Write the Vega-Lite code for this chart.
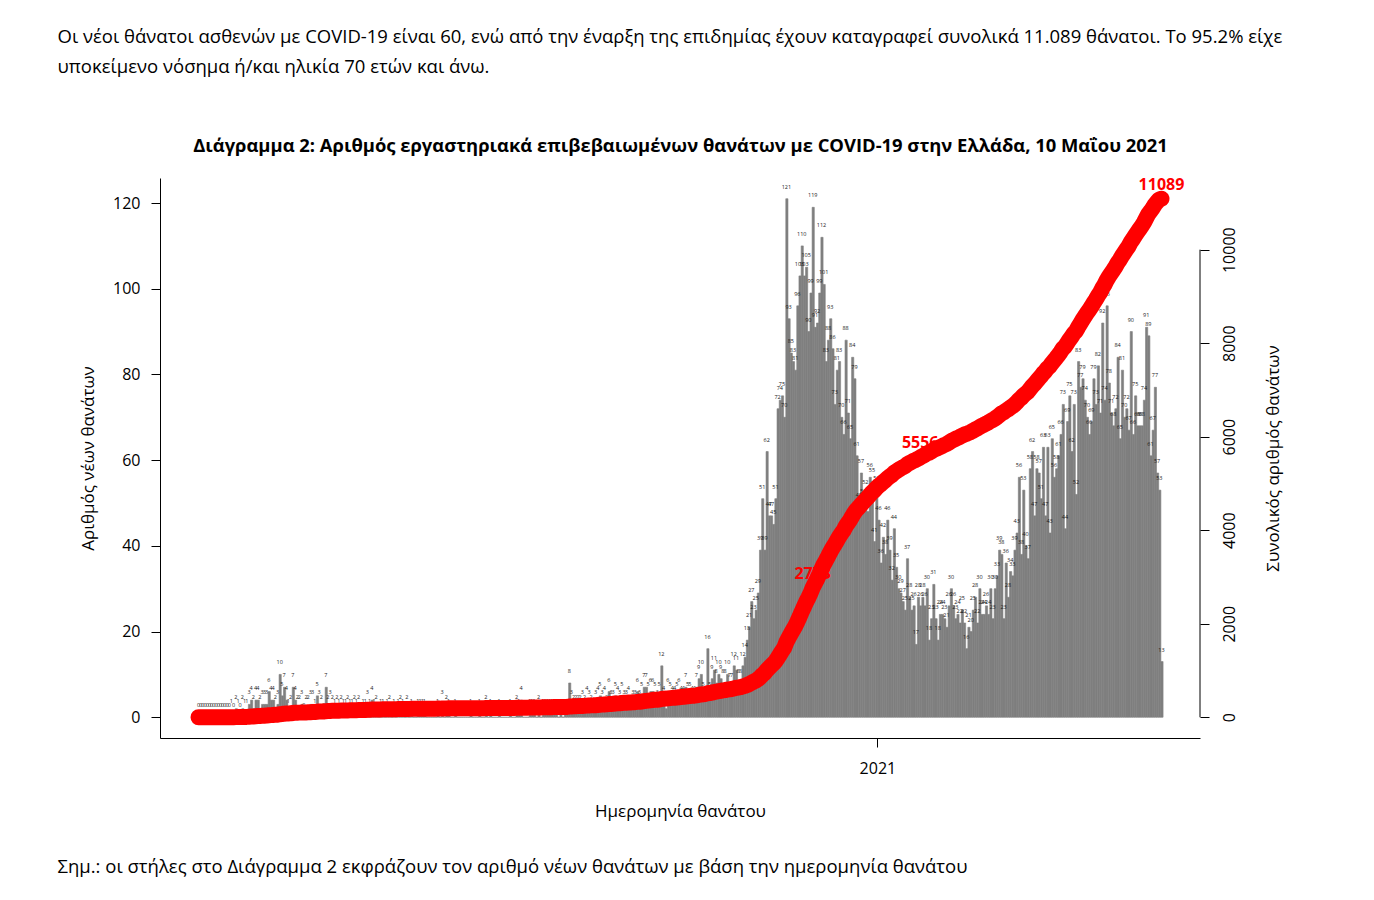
{
"$schema": "https://vega.github.io/schema/vega-lite/v6.json",
"width": 1040, "height": 560,
"autosize": {"type": "none"},
"padding": {"left": 160, "top": 178, "right": 174, "bottom": 162},
"background": "white",
"datasets": {"deaths": [
{"d":"2020-02-26","v":0},{"d":"2020-02-27","v":0},{"d":"2020-02-28","v":0},{"d":"2020-02-29","v":0},
{"d":"2020-03-01","v":0},{"d":"2020-03-02","v":0},{"d":"2020-03-03","v":0},{"d":"2020-03-04","v":0},{"d":"2020-03-05","v":0},{"d":"2020-03-06","v":0},{"d":"2020-03-07","v":0},{"d":"2020-03-08","v":0},{"d":"2020-03-09","v":0},{"d":"2020-03-10","v":0},{"d":"2020-03-11","v":0},{"d":"2020-03-12","v":1},{"d":"2020-03-13","v":0},{"d":"2020-03-14","v":2},{"d":"2020-03-15","v":1},{"d":"2020-03-16","v":0},{"d":"2020-03-17","v":2},{"d":"2020-03-18","v":1},{"d":"2020-03-19","v":1},{"d":"2020-03-20","v":3},{"d":"2020-03-21","v":4},{"d":"2020-03-22","v":2},{"d":"2020-03-23","v":4},{"d":"2020-03-24","v":4},{"d":"2020-03-25","v":2},{"d":"2020-03-26","v":3},{"d":"2020-03-27","v":3},{"d":"2020-03-28","v":3},{"d":"2020-03-29","v":6},{"d":"2020-03-30","v":4},{"d":"2020-03-31","v":4},
{"d":"2020-04-01","v":2},{"d":"2020-04-02","v":3},{"d":"2020-04-03","v":10},{"d":"2020-04-04","v":5},{"d":"2020-04-05","v":7},{"d":"2020-04-06","v":4},{"d":"2020-04-07","v":1},{"d":"2020-04-08","v":2},{"d":"2020-04-09","v":7},{"d":"2020-04-10","v":4},{"d":"2020-04-11","v":2},{"d":"2020-04-12","v":2},{"d":"2020-04-13","v":3},{"d":"2020-04-14","v":0},{"d":"2020-04-15","v":2},{"d":"2020-04-16","v":2},{"d":"2020-04-17","v":3},{"d":"2020-04-18","v":3},{"d":"2020-04-19","v":1},{"d":"2020-04-20","v":5},{"d":"2020-04-21","v":3},{"d":"2020-04-22","v":2},{"d":"2020-04-23","v":0},{"d":"2020-04-24","v":7},{"d":"2020-04-25","v":2},{"d":"2020-04-26","v":3},{"d":"2020-04-27","v":2},{"d":"2020-04-28","v":1},{"d":"2020-04-29","v":2},{"d":"2020-04-30","v":1},
{"d":"2020-05-01","v":2},{"d":"2020-05-02","v":1},{"d":"2020-05-03","v":1},{"d":"2020-05-04","v":2},{"d":"2020-05-05","v":1},{"d":"2020-05-06","v":1},{"d":"2020-05-07","v":2},{"d":"2020-05-08","v":1},{"d":"2020-05-09","v":2},{"d":"2020-05-10","v":0},{"d":"2020-05-11","v":1},{"d":"2020-05-12","v":1},{"d":"2020-05-13","v":3},{"d":"2020-05-14","v":1},{"d":"2020-05-15","v":4},{"d":"2020-05-16","v":1},{"d":"2020-05-17","v":2},{"d":"2020-05-18","v":0},{"d":"2020-05-19","v":1},{"d":"2020-05-20","v":1},{"d":"2020-05-21","v":0},{"d":"2020-05-22","v":1},{"d":"2020-05-23","v":2},{"d":"2020-05-24","v":0},{"d":"2020-05-25","v":1},{"d":"2020-05-26","v":0},{"d":"2020-05-27","v":1},{"d":"2020-05-28","v":2},{"d":"2020-05-29","v":1},{"d":"2020-05-30","v":0},{"d":"2020-05-31","v":2},
{"d":"2020-06-01","v":0},{"d":"2020-06-02","v":1},{"d":"2020-06-03","v":0},{"d":"2020-06-04","v":0},{"d":"2020-06-05","v":1},{"d":"2020-06-06","v":1},{"d":"2020-06-07","v":1},{"d":"2020-06-08","v":1},{"d":"2020-06-09","v":0},{"d":"2020-06-10","v":0},{"d":"2020-06-11","v":0},{"d":"2020-06-12","v":0},{"d":"2020-06-13","v":0},{"d":"2020-06-14","v":1},{"d":"2020-06-15","v":0},{"d":"2020-06-16","v":3},{"d":"2020-06-17","v":0},{"d":"2020-06-18","v":2},{"d":"2020-06-19","v":1},{"d":"2020-06-20","v":0},{"d":"2020-06-21","v":0},{"d":"2020-06-22","v":1},{"d":"2020-06-23","v":0},{"d":"2020-06-24","v":0},{"d":"2020-06-25","v":0},{"d":"2020-06-26","v":0},{"d":"2020-06-27","v":0},{"d":"2020-06-28","v":0},{"d":"2020-06-29","v":1},{"d":"2020-06-30","v":0},
{"d":"2020-07-01","v":0},{"d":"2020-07-02","v":0},{"d":"2020-07-03","v":1},{"d":"2020-07-04","v":0},{"d":"2020-07-05","v":0},{"d":"2020-07-06","v":2},{"d":"2020-07-07","v":0},{"d":"2020-07-08","v":1},{"d":"2020-07-09","v":0},{"d":"2020-07-10","v":0},{"d":"2020-07-11","v":0},{"d":"2020-07-12","v":1},{"d":"2020-07-13","v":0},{"d":"2020-07-14","v":0},{"d":"2020-07-15","v":0},{"d":"2020-07-16","v":0},{"d":"2020-07-17","v":1},{"d":"2020-07-18","v":0},{"d":"2020-07-19","v":0},{"d":"2020-07-20","v":2},{"d":"2020-07-21","v":1},{"d":"2020-07-22","v":4},{"d":"2020-07-23","v":0},{"d":"2020-07-24","v":0},{"d":"2020-07-25","v":0},{"d":"2020-07-26","v":1},{"d":"2020-07-27","v":1},{"d":"2020-07-28","v":1},{"d":"2020-07-29","v":0},{"d":"2020-07-30","v":2},{"d":"2020-07-31","v":0},
{"d":"2020-08-01","v":1},{"d":"2020-08-02","v":1},{"d":"2020-08-03","v":1},{"d":"2020-08-04","v":1},{"d":"2020-08-05","v":1},{"d":"2020-08-06","v":1},{"d":"2020-08-07","v":1},{"d":"2020-08-08","v":0},{"d":"2020-08-09","v":1},{"d":"2020-08-10","v":0},{"d":"2020-08-11","v":1},{"d":"2020-08-12","v":1},{"d":"2020-08-13","v":8},{"d":"2020-08-14","v":3},{"d":"2020-08-15","v":2},{"d":"2020-08-16","v":2},{"d":"2020-08-17","v":2},{"d":"2020-08-18","v":2},{"d":"2020-08-19","v":3},{"d":"2020-08-20","v":2},{"d":"2020-08-21","v":4},{"d":"2020-08-22","v":3},{"d":"2020-08-23","v":2},{"d":"2020-08-24","v":1},{"d":"2020-08-25","v":3},{"d":"2020-08-26","v":4},{"d":"2020-08-27","v":5},{"d":"2020-08-28","v":3},{"d":"2020-08-29","v":4},{"d":"2020-08-30","v":2},{"d":"2020-08-31","v":6},
{"d":"2020-09-01","v":3},{"d":"2020-09-02","v":3},{"d":"2020-09-03","v":5},{"d":"2020-09-04","v":4},{"d":"2020-09-05","v":3},{"d":"2020-09-06","v":5},{"d":"2020-09-07","v":3},{"d":"2020-09-08","v":3},{"d":"2020-09-09","v":4},{"d":"2020-09-10","v":2},{"d":"2020-09-11","v":3},{"d":"2020-09-12","v":3},{"d":"2020-09-13","v":6},{"d":"2020-09-14","v":3},{"d":"2020-09-15","v":5},{"d":"2020-09-16","v":7},{"d":"2020-09-17","v":7},{"d":"2020-09-18","v":5},{"d":"2020-09-19","v":6},{"d":"2020-09-20","v":6},{"d":"2020-09-21","v":5},{"d":"2020-09-22","v":3},{"d":"2020-09-23","v":5},{"d":"2020-09-24","v":12},{"d":"2020-09-25","v":4},{"d":"2020-09-26","v":2},{"d":"2020-09-27","v":6},{"d":"2020-09-28","v":5},{"d":"2020-09-29","v":4},{"d":"2020-09-30","v":4},
{"d":"2020-10-01","v":5},{"d":"2020-10-02","v":6},{"d":"2020-10-03","v":4},{"d":"2020-10-04","v":4},{"d":"2020-10-05","v":7},{"d":"2020-10-06","v":5},{"d":"2020-10-07","v":5},{"d":"2020-10-08","v":4},{"d":"2020-10-09","v":4},{"d":"2020-10-10","v":7},{"d":"2020-10-11","v":9},{"d":"2020-10-12","v":10},{"d":"2020-10-13","v":5},{"d":"2020-10-14","v":4},{"d":"2020-10-15","v":16},{"d":"2020-10-16","v":5},{"d":"2020-10-17","v":9},{"d":"2020-10-18","v":11},{"d":"2020-10-19","v":8},{"d":"2020-10-20","v":10},{"d":"2020-10-21","v":9},{"d":"2020-10-22","v":8},{"d":"2020-10-23","v":8},{"d":"2020-10-24","v":10},{"d":"2020-10-25","v":7},{"d":"2020-10-26","v":7},{"d":"2020-10-27","v":12},{"d":"2020-10-28","v":11},{"d":"2020-10-29","v":8},{"d":"2020-10-30","v":8},{"d":"2020-10-31","v":12},
{"d":"2020-11-01","v":14},{"d":"2020-11-02","v":18},{"d":"2020-11-03","v":21},{"d":"2020-11-04","v":27},{"d":"2020-11-05","v":23},{"d":"2020-11-06","v":25},{"d":"2020-11-07","v":29},{"d":"2020-11-08","v":39},{"d":"2020-11-09","v":51},{"d":"2020-11-10","v":39},{"d":"2020-11-11","v":62},{"d":"2020-11-12","v":47},{"d":"2020-11-13","v":47},{"d":"2020-11-14","v":45},{"d":"2020-11-15","v":51},{"d":"2020-11-16","v":72},{"d":"2020-11-17","v":74},{"d":"2020-11-18","v":75},{"d":"2020-11-19","v":70},{"d":"2020-11-20","v":121},{"d":"2020-11-21","v":93},{"d":"2020-11-22","v":85},{"d":"2020-11-23","v":83},{"d":"2020-11-24","v":81},{"d":"2020-11-25","v":96},{"d":"2020-11-26","v":103},{"d":"2020-11-27","v":110},{"d":"2020-11-28","v":103},{"d":"2020-11-29","v":105},{"d":"2020-11-30","v":90},
{"d":"2020-12-01","v":99},{"d":"2020-12-02","v":119,"lab":"2773"},{"d":"2020-12-03","v":91},{"d":"2020-12-04","v":92},{"d":"2020-12-05","v":99},{"d":"2020-12-06","v":112},{"d":"2020-12-07","v":101},{"d":"2020-12-08","v":83},{"d":"2020-12-09","v":88},{"d":"2020-12-10","v":93},{"d":"2020-12-11","v":86},{"d":"2020-12-12","v":73},{"d":"2020-12-13","v":81},{"d":"2020-12-14","v":83},{"d":"2020-12-15","v":70},{"d":"2020-12-16","v":66},{"d":"2020-12-17","v":88},{"d":"2020-12-18","v":71},{"d":"2020-12-19","v":65},{"d":"2020-12-20","v":84},{"d":"2020-12-21","v":79},{"d":"2020-12-22","v":61},{"d":"2020-12-23","v":49},{"d":"2020-12-24","v":57},{"d":"2020-12-25","v":50},{"d":"2020-12-26","v":52},{"d":"2020-12-27","v":48},{"d":"2020-12-28","v":56},{"d":"2020-12-29","v":55},{"d":"2020-12-30","v":41},{"d":"2020-12-31","v":53},
{"d":"2021-01-01","v":46},{"d":"2021-01-02","v":36},{"d":"2021-01-03","v":42},{"d":"2021-01-04","v":38},{"d":"2021-01-05","v":46},{"d":"2021-01-06","v":39},{"d":"2021-01-07","v":32},{"d":"2021-01-08","v":44},{"d":"2021-01-09","v":35},{"d":"2021-01-10","v":30},{"d":"2021-01-11","v":29},{"d":"2021-01-12","v":27},{"d":"2021-01-13","v":25},{"d":"2021-01-14","v":37},{"d":"2021-01-15","v":28},{"d":"2021-01-16","v":25},{"d":"2021-01-17","v":26},{"d":"2021-01-18","v":17},{"d":"2021-01-19","v":28},{"d":"2021-01-20","v":26,"lab":"5556"},{"d":"2021-01-21","v":28},{"d":"2021-01-22","v":26},{"d":"2021-01-23","v":30},{"d":"2021-01-24","v":18},{"d":"2021-01-25","v":23},{"d":"2021-01-26","v":31},{"d":"2021-01-27","v":23},{"d":"2021-01-28","v":18},{"d":"2021-01-29","v":24},{"d":"2021-01-30","v":24},{"d":"2021-01-31","v":23},
{"d":"2021-02-01","v":21},{"d":"2021-02-02","v":26},{"d":"2021-02-03","v":30},{"d":"2021-02-04","v":26},{"d":"2021-02-05","v":23},{"d":"2021-02-06","v":24},{"d":"2021-02-07","v":22},{"d":"2021-02-08","v":25},{"d":"2021-02-09","v":22},{"d":"2021-02-10","v":16},{"d":"2021-02-11","v":21},{"d":"2021-02-12","v":20},{"d":"2021-02-13","v":25},{"d":"2021-02-14","v":28},{"d":"2021-02-15","v":22},{"d":"2021-02-16","v":30},{"d":"2021-02-17","v":24},{"d":"2021-02-18","v":24},{"d":"2021-02-19","v":26},{"d":"2021-02-20","v":24},{"d":"2021-02-21","v":30},{"d":"2021-02-22","v":23},{"d":"2021-02-23","v":30},{"d":"2021-02-24","v":33},{"d":"2021-02-25","v":39},{"d":"2021-02-26","v":38},{"d":"2021-02-27","v":23},{"d":"2021-02-28","v":36},
{"d":"2021-03-01","v":28},{"d":"2021-03-02","v":34},{"d":"2021-03-03","v":33},{"d":"2021-03-04","v":39},{"d":"2021-03-05","v":43},{"d":"2021-03-06","v":56},{"d":"2021-03-07","v":38},{"d":"2021-03-08","v":53},{"d":"2021-03-09","v":40},{"d":"2021-03-10","v":37},{"d":"2021-03-11","v":58},{"d":"2021-03-12","v":62},{"d":"2021-03-13","v":47},{"d":"2021-03-14","v":58},{"d":"2021-03-15","v":57},{"d":"2021-03-16","v":51},{"d":"2021-03-17","v":63},{"d":"2021-03-18","v":47},{"d":"2021-03-19","v":63},{"d":"2021-03-20","v":43},{"d":"2021-03-21","v":65},{"d":"2021-03-22","v":56},{"d":"2021-03-23","v":58},{"d":"2021-03-24","v":61},{"d":"2021-03-25","v":66},{"d":"2021-03-26","v":73},{"d":"2021-03-27","v":44},{"d":"2021-03-28","v":69},{"d":"2021-03-29","v":75},{"d":"2021-03-30","v":62},{"d":"2021-03-31","v":73},
{"d":"2021-04-01","v":52},{"d":"2021-04-02","v":83},{"d":"2021-04-03","v":77},{"d":"2021-04-04","v":79},{"d":"2021-04-05","v":74},{"d":"2021-04-06","v":70},{"d":"2021-04-07","v":66},{"d":"2021-04-08","v":69},{"d":"2021-04-09","v":79},{"d":"2021-04-10","v":73},{"d":"2021-04-11","v":82},{"d":"2021-04-12","v":71},{"d":"2021-04-13","v":92},{"d":"2021-04-14","v":74},{"d":"2021-04-15","v":96},{"d":"2021-04-16","v":78},{"d":"2021-04-17","v":71},{"d":"2021-04-18","v":68},{"d":"2021-04-19","v":72},{"d":"2021-04-20","v":84},{"d":"2021-04-21","v":65},{"d":"2021-04-22","v":81},{"d":"2021-04-23","v":70},{"d":"2021-04-24","v":72},{"d":"2021-04-25","v":67},{"d":"2021-04-26","v":90},{"d":"2021-04-27","v":66},{"d":"2021-04-28","v":75},{"d":"2021-04-29","v":68},{"d":"2021-04-30","v":68},
{"d":"2021-05-01","v":68},{"d":"2021-05-02","v":74},{"d":"2021-05-03","v":91},{"d":"2021-05-04","v":89},{"d":"2021-05-05","v":61},{"d":"2021-05-06","v":67},{"d":"2021-05-07","v":77},{"d":"2021-05-08","v":57},{"d":"2021-05-09","v":53},{"d":"2021-05-10","v":13,"lab":"11089"}
]},
"data": {"name": "deaths"},
"transform": [{"window": [{"op": "sum", "field": "v", "as": "cum"}], "sort": [{"field": "d"}], "frame": [null, 0]}],
"layer": [
{"mark": {"type": "bar", "color": "#7f7f7f", "binSpacing": 0, "stroke": "#7f7f7f", "strokeWidth": 0.6},
 "encoding": {
  "x": {"field": "d", "timeUnit": "utcyearmonthdate", "type": "temporal",
   "scale": {"type": "utc", "nice": false, "domain": [{"year": 2020, "month": 2, "date": 8, "hours": 22, "minutes": 34, "utc": true}, {"year": 2021, "month": 5, "date": 28, "hours": 1, "minutes": 26, "utc": true}]},
   "axis": {"orient": "bottom", "values": [{"year": 2021, "month": 1, "date": 1, "utc": true}], "labelExpr": "'2021'", "tickSize": 9, "labelPadding": 13, "grid": false, "labelFlush": false, "labelFontSize": 16,
    "title": "Ημερομηνία θανάτου", "titleX": 520, "titleY": 78, "titleAlign": "center", "titleBaseline": "alphabetic"}},
  "y": {"field": "v", "type": "quantitative", "scale": {"domain": [-4.84, 125.84], "nice": false, "zero": false},
   "axis": {"orient": "left", "values": [0, 20, 40, 60, 80, 100, 120], "tickSize": 9, "labelPadding": 11, "grid": false, "labelFlush": false, "labelFontSize": 16,
    "title": "Αριθμός νέων θανάτων", "titleAngle": 270, "titleX": -72, "titleY": 280, "titleAlign": "center", "titleBaseline": "middle"}},
  "y2": {"datum": 0}
 }},
{"mark": {"type": "text", "fontSize": 5.5, "dy": -12, "baseline": "middle", "align": "center", "color": "#1a1a1a"},
 "encoding": {
  "x": {"field": "d", "timeUnit": "utcyearmonthdate", "type": "temporal", "bandPosition": 0.5,
   "scale": {"type": "utc", "nice": false, "domain": [{"year": 2020, "month": 2, "date": 8, "hours": 22, "minutes": 34, "utc": true}, {"year": 2021, "month": 5, "date": 28, "hours": 1, "minutes": 26, "utc": true}]},
   "axis": null},
  "y": {"field": "v", "type": "quantitative", "scale": {"domain": [-4.84, 125.84], "nice": false, "zero": false}, "axis": null},
  "text": {"field": "v", "type": "quantitative"}
 }},
{"mark": {"type": "line", "color": "#ff0000", "strokeWidth": 16, "strokeCap": "round", "strokeJoin": "round"},
 "encoding": {
  "x": {"field": "d", "timeUnit": "utcyearmonthdate", "type": "temporal", "bandPosition": 0.5,
   "scale": {"type": "utc", "nice": false, "domain": [{"year": 2020, "month": 2, "date": 8, "hours": 22, "minutes": 34, "utc": true}, {"year": 2021, "month": 5, "date": 28, "hours": 1, "minutes": 26, "utc": true}]},
   "axis": {"orient": "top", "domain": false, "ticks": false, "labels": false, "grid": false,
    "title": "Διάγραμμα 2: Αριθμός εργαστηριακά επιβεβαιωμένων θανάτων με COVID-19 στην Ελλάδα, 10 Μαΐου 2021",
    "titleFontWeight": "bold", "titleFontSize": 18.4, "titleX": 520, "titleY": -27, "titleAlign": "center", "titleBaseline": "alphabetic"}},
  "y": {"field": "cum", "type": "quantitative", "scale": {"domain": [-443.56, 11532.56], "nice": false, "zero": false},
   "axis": {"orient": "right", "values": [0, 2000, 4000, 6000, 8000, 10000], "format": "d", "domain": false, "tickSize": 9, "labelPadding": 12, "grid": false, "labelFontSize": 16,
    "labelAngle": 270, "labelAlign": "center", "labelBaseline": "top", "labelFlush": false,
    "title": "Συνολικός αριθμός θανάτων", "titleAngle": 270, "titleX": 73, "titleY": 280, "titleAlign": "center", "titleBaseline": "middle"}}
 }},
{"transform": [{"filter": "datum.lab"}],
 "mark": {"type": "text", "color": "#ff0000", "fontWeight": "bold", "fontSize": 16, "dy": -9, "baseline": "alphabetic", "align": "center"},
 "encoding": {
  "x": {"field": "d", "timeUnit": "utcyearmonthdate", "type": "temporal", "bandPosition": 0.5,
   "scale": {"type": "utc", "nice": false, "domain": [{"year": 2020, "month": 2, "date": 8, "hours": 22, "minutes": 34, "utc": true}, {"year": 2021, "month": 5, "date": 28, "hours": 1, "minutes": 26, "utc": true}]},
   "axis": {"orient": "bottom", "domain": false, "ticks": false, "labels": false, "grid": false,
    "title": "Σημ.: οι στήλες στο Διάγραμμα 2 εκφράζουν τον αριθμό νέων θανάτων με βάση την ημερομηνία θανάτου",
    "titleX": -103, "titleY": 134, "titleAlign": "left", "titleBaseline": "alphabetic", "titleFontSize": 18.5}},
  "y": {"field": "cum", "type": "quantitative", "scale": {"domain": [-443.56, 11532.56], "nice": false, "zero": false}, "axis": null},
  "text": {"field": "lab", "type": "nominal"}
 }},
{"data": {"values": [{}]},
 "mark": {"type": "rule", "color": "#000000", "strokeWidth": 1},
 "encoding": {
  "x": {"datum": {"year": 2021, "month": 5, "date": 28, "hours": 1, "minutes": 26, "utc": true}, "type": "temporal",
   "scale": {"type": "utc", "nice": false, "domain": [{"year": 2020, "month": 2, "date": 8, "hours": 22, "minutes": 34, "utc": true}, {"year": 2021, "month": 5, "date": 28, "hours": 1, "minutes": 26, "utc": true}]},
   "axis": {"orient": "top", "domain": false, "ticks": false, "labels": false, "grid": false,
    "title": ["Οι νέοι θάνατοι ασθενών με COVID-19 είναι 60, ενώ από την έναρξη της επιδημίας έχουν καταγραφεί συνολικά 11.089 θάνατοι.  Το 95.2% είχε", "υποκείμενο νόσημα ή/και ηλικία 70 ετών και άνω."],
    "titleX": -103, "titleY": -136, "titleAlign": "left", "titleBaseline": "alphabetic", "titleFontSize": 18.5, "titleLineHeight": 30}},
  "y": {"datum": 0, "type": "quantitative", "scale": {"domain": [-443.56, 11532.56], "nice": false, "zero": false}, "axis": null},
  "y2": {"datum": 10000}
 }}
],
"resolve": {"scale": {"y": "independent"}, "axis": {"x": "independent", "y": "independent"}},
"config": {
 "view": {"stroke": null},
 "font": "Open Sans",
 "text": {"font": "Open Sans"},
 "axis": {"domainColor": "#000000", "tickColor": "#000000", "labelColor": "#000000", "titleColor": "#000000",
  "labelFont": "Open Sans", "titleFont": "Open Sans", "labelFontSize": 15, "titleFontSize": 17, "titleFontWeight": "normal", "grid": false}
}
}
